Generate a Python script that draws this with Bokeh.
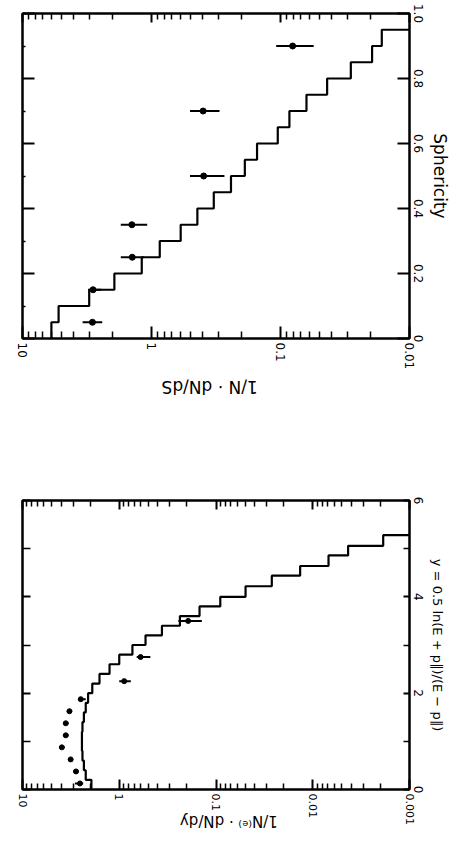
import math
from bokeh.plotting import figure
from bokeh.layouts import column
from bokeh.models import Range1d, FixedTicker, LogAxis, LinearAxis
from bokeh.embed import file_html
from bokeh.resources import INLINE

FONT = "DejaVu Sans"

# ---------------- top panel: sphericity ----------------
sph_edges = [0.0, 0.05, 0.10, 0.15, 0.20, 0.25, 0.30, 0.35, 0.40, 0.45, 0.50,
             0.55, 0.60, 0.65, 0.70, 0.75, 0.80, 0.85, 0.90, 0.95, 1.00]
sph_hist = [5.97, 5.25, 3.04, 1.94, 1.19, 0.863, 0.594, 0.441, 0.329, 0.242,
            0.189, 0.152, 0.105, 0.0853, 0.0629, 0.0435, 0.0285, 0.0195, 0.0164, 0.008]
sph_pts = [0.05, 0.15, 0.25, 0.35, 0.50, 0.70, 0.90]
sph_val = [2.87, 2.84, 1.41, 1.42, 0.394, 0.398, 0.0805]
sph_lo = [2.41, 2.45, 1.15, 1.08, 0.272, 0.297, 0.0553]
sph_hi = [3.42, 3.10, 1.73, 1.73, 0.503, 0.503, 0.108]
sph_ticks = [0.0, 0.2, 0.4, 0.6, 0.8, 1.0]
sph_tick_labels = ["0", "0.2", "0.4", "0.6", "0.8", "1.0"]
top_log_ticks = [10.0, 1.0, 0.1, 0.01]
top_log_labels = ["10", "1", "0.1", "0.01"]

# ---------------- bottom panel: rapidity ----------------
rap_edges = [0.0, 0.2, 0.4, 0.6, 0.8, 1.0, 1.2, 1.4, 1.6, 1.8, 2.0, 2.2, 2.4,
             2.6, 2.8, 3.0, 3.2, 3.4, 3.6, 3.8, 4.0, 4.22, 4.44, 4.64, 4.86,
             5.06, 5.28, 5.5]
rap_hist = [1.94, 2.22, 2.32, 2.40, 2.43, 2.43, 2.40, 2.32, 2.22, 2.10, 1.90,
            1.60, 1.26, 1.00, 0.731, 0.535, 0.362, 0.236, 0.148, 0.0903,
            0.0495, 0.0265, 0.0135, 0.00687, 0.00431, 0.00187, 0.0008]
rap_pts = [0.125, 0.375, 0.625, 0.875, 1.125, 1.375, 1.625, 1.875, 2.25, 2.75, 3.5]
rap_val = [2.55, 2.80, 3.18, 3.92, 3.57, 3.57, 3.27, 2.50, 0.889, 0.602, 0.194]
rap_lo = [2.36, 2.63, 2.99, 3.68, 3.35, 3.35, 3.07, 2.22, 0.760, 0.477, 0.140]
rap_hi = [2.87, 2.99, 3.38, 4.17, 3.80, 3.80, 3.48, 2.66, 1.00, 0.660, 0.245]
rap_ticks = [0, 2, 4, 6]
rap_minor = [1, 3, 5]
rap_tick_labels = ["0", "2", "4", "6"]
bot_log_ticks = [10.0, 1.0, 0.1, 0.01, 0.001]
bot_log_labels = ["10", "1", "0.1", "0.01", "0.001"]


def log_minors(lo_exp, hi_exp):
    return [m * 10.0 ** k for k in range(lo_exp, hi_exp) for m in range(2, 10)]


def step_xy(edges, vals):
    xs, ys = [], []
    for i, v in enumerate(vals):
        xs += [v, v]
        ys += [edges[i], edges[i + 1]]
    return xs, ys


def style_axis(ax, ticker, labels, tick_labels, major_in=10, minor_in=6,
               font_size="12px", hidden=False):
    ax.ticker = ticker
    ax.major_tick_in = major_in
    ax.major_tick_out = 0
    ax.minor_tick_in = minor_in
    ax.minor_tick_out = 0
    ax.axis_line_width = 2
    ax.axis_line_color = "black"
    ax.major_tick_line_width = 2
    ax.major_tick_line_color = "black"
    ax.minor_tick_line_width = 1.5
    ax.minor_tick_line_color = "black"
    ax.major_label_text_font = FONT
    ax.major_label_text_font_size = font_size
    ax.major_label_text_color = "black"
    if hidden:
        ax.major_label_overrides = {t: "" for t in labels}
        ax.major_label_standoff = 0
    else:
        ax.major_label_overrides = {t: l for t, l in zip(labels, tick_labels)}
        ax.major_label_orientation = "vertical"
        ax.major_label_standoff = 4


def set_label(ax, text, size, standoff):
    ax.axis_label = text
    ax.axis_label_text_font = FONT
    ax.axis_label_text_font_size = size
    ax.axis_label_text_font_style = "normal"
    ax.axis_label_text_color = "black"
    ax.axis_label_standoff = standoff


def flipped_axis_title(p, anchor, text, size, standoff):
    # upside-down title of the value axis (the figure is printed rotated)
    ax = LogAxis()
    ax.ticker = FixedTicker(ticks=[anchor], minor_ticks=[])
    ax.major_label_overrides = {anchor: text}
    ax.major_label_orientation = math.pi
    ax.major_tick_in = 0
    ax.major_tick_out = 0
    ax.minor_tick_in = 0
    ax.minor_tick_out = 0
    ax.axis_line_color = None
    ax.major_tick_line_color = None
    ax.minor_tick_line_color = None
    ax.major_label_text_font = FONT
    ax.major_label_text_font_size = size
    ax.major_label_text_color = "black"
    ax.major_label_standoff = standoff
    p.add_layout(ax, "below")


# ---------- top figure ----------
p1 = figure(width=452, height=420, x_axis_type="log",
            x_range=Range1d(10, 0.01), y_range=Range1d(0, 1.0),
            x_axis_location="below", y_axis_location="right",
            min_border_left=15, min_border_right=42, min_border_top=13,
            min_border_bottom=82, output_backend="svg", toolbar_location=None)
p1.xgrid.visible = False
p1.ygrid.visible = False
p1.outline_line_color = "black"
p1.outline_line_width = 2
p1.background_fill_color = "white"
p1.border_fill_color = "white"

ax_b = p1.below[0]
ax_r = p1.right[0]
style_axis(ax_b, FixedTicker(ticks=top_log_ticks, minor_ticks=log_minors(-2, 1)),
           top_log_ticks, top_log_labels, major_in=12, minor_in=7)
style_axis(ax_r, FixedTicker(ticks=sph_ticks, minor_ticks=[]),
           sph_ticks, sph_tick_labels, major_in=12, minor_in=0)
set_label(ax_r, "Sphericity", "17px", 4)

ax_t = LogAxis()
style_axis(ax_t, FixedTicker(ticks=top_log_ticks, minor_ticks=log_minors(-2, 1)),
           top_log_ticks, top_log_labels, major_in=9, minor_in=6, font_size="4px",
           hidden=True)
p1.add_layout(ax_t, "above")
ax_l = LinearAxis()
style_axis(ax_l, FixedTicker(ticks=sph_ticks, minor_ticks=[0.1, 0.3, 0.5, 0.7, 0.9]),
           sph_ticks, sph_tick_labels, major_in=12, minor_in=3, font_size="4px",
           hidden=True)
p1.add_layout(ax_l, "left")
flipped_axis_title(p1, 0.836, "1/N · dN/dS", "17px", 14)

hx, hy = step_xy(sph_edges, sph_hist)
p1.line(hx, hy, line_color="black", line_width=2.2)
p1.segment(x0=sph_lo, y0=sph_pts, x1=sph_hi, y1=sph_pts, line_color="black",
           line_width=2)
p1.scatter(x=sph_val, y=sph_pts, size=6, color="black")

# ---------- bottom figure ----------
p2 = figure(width=452, height=421, x_axis_type="log",
            x_range=Range1d(10, 0.001), y_range=Range1d(0, 6),
            x_axis_location="below", y_axis_location="right",
            min_border_left=22, min_border_right=39, min_border_top=80,
            min_border_bottom=51, output_backend="svg", toolbar_location=None)
p2.xgrid.visible = False
p2.ygrid.visible = False
p2.outline_line_color = "black"
p2.outline_line_width = 2
p2.background_fill_color = "white"
p2.border_fill_color = "white"

bx_b = p2.below[0]
bx_r = p2.right[0]
style_axis(bx_b, FixedTicker(ticks=bot_log_ticks, minor_ticks=log_minors(-3, 1)),
           bot_log_ticks, bot_log_labels, major_in=10, minor_in=6, font_size="11px")
style_axis(bx_r, FixedTicker(ticks=rap_ticks, minor_ticks=rap_minor),
           rap_ticks, rap_tick_labels, major_in=6, minor_in=6)
set_label(bx_r, "y = 0.5 ln(E + p∥)/(E − p∥)", "13px", 4)

bx_t = LogAxis()
style_axis(bx_t, FixedTicker(ticks=bot_log_ticks, minor_ticks=log_minors(-3, 1)),
           bot_log_ticks, bot_log_labels, major_in=9, minor_in=6, font_size="4px",
           hidden=True)
p2.add_layout(bx_t, "above")
bx_l = LinearAxis()
style_axis(bx_l, FixedTicker(ticks=rap_ticks, minor_ticks=rap_minor),
           rap_ticks, rap_tick_labels, major_in=8, minor_in=8, font_size="4px",
           hidden=True)
p2.add_layout(bx_l, "left")
flipped_axis_title(p2, 0.236, "1/N⁽ᵉ⁾ · dN/dy", "15px", -7)

gx, gy = step_xy(rap_edges, rap_hist)
p2.line(gx, gy, line_color="black", line_width=2.2)
p2.segment(x0=rap_lo, y0=rap_pts, x1=rap_hi, y1=rap_pts, line_color="black",
           line_width=2)
p2.scatter(x=rap_val, y=rap_pts, size=5, color="black")

layout = column(p1, p2, spacing=0)
open("out.html", "w").write(file_html(layout, INLINE))
